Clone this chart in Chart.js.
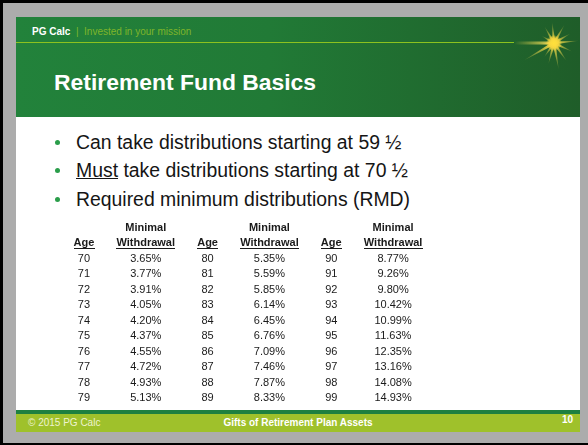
<!DOCTYPE html>
<html>
<head>
<meta charset="utf-8">
<script src="https://cdn.jsdelivr.net/npm/chart.js@4/dist/chart.umd.min.js"></script>
<style>
  body { margin: 0; width: 588px; height: 445px; background: #acacac; position: relative; overflow: hidden;
         font-family: "Liberation Sans", Arial, sans-serif; }
  .abs { position: absolute; white-space: nowrap; line-height: 1; }
  #slide { position: absolute; left: 16px; top: 17px; width: 564px; height: 415px; background: #fff; }
  #header { position: absolute; left: 16px; top: 17px; width: 564px; height: 100px;
            background: linear-gradient(to right, #22823b 0%, #217a36 45%, #1f5d29 100%); }
  #topline { position: absolute; left: 16px; top: 42px; width: 498px; height: 1px; background: #8cc21f; }
  #footline { position: absolute; left: 16px; top: 410px; width: 564px; height: 4px; background: #1e8040; }
  #footer { position: absolute; left: 16px; top: 414px; width: 564px; height: 18px; background: #9fc12b; }
  .dot { position: absolute; width: 5px; height: 5px; border-radius: 50%; background: #2a9d4a; }
  .bullet { font-size: 19.4px; color: #151515; }
  #rmdTable { position: absolute; left: 53px; top: 220px; }
</style>
</head>
<body>
<div class="abs" style="left:0;top:0;width:588px;height:3px;background:#000"></div>
<div class="abs" style="left:0;top:0;width:3px;height:445px;background:#000"></div>
<div class="abs" style="left:0;top:443px;width:588px;height:2px;background:#000"></div>

<div id="slide"></div>
<div id="header"></div>
<div id="topline"></div>
<canvas id="star" class="abs" width="80" height="60" style="left:504px;top:17px"></canvas>

<div class="abs" style="left:32px;top:27px;font-size:10px;color:#fff;font-weight:bold">PG Calc<span style="font-weight:normal;color:#7fb52a">&nbsp;&nbsp;|&nbsp;&nbsp;Invested in your mission</span></div>
<div class="abs" style="left:54px;top:71.3px;font-size:22.9px;color:#fff;font-weight:bold">Retirement Fund Basics</div>

<div class="dot" style="left:55px;top:140px"></div>
<div class="dot" style="left:55px;top:168px"></div>
<div class="dot" style="left:55px;top:197px"></div>
<div class="abs bullet" style="left:76px;top:132.5px">Can take distributions starting at 59 ½</div>
<div class="abs bullet" style="left:76px;top:160.5px"><u>Must</u> take distributions starting at 70 ½</div>
<div class="abs bullet" style="left:76px;top:189.5px">Required minimum distributions (RMD)</div>

<canvas id="rmdTable" width="371" height="186"></canvas>

<div id="footline"></div>
<div id="footer"></div>
<div class="abs" style="left:28px;top:418px;font-size:10px;color:#eef3cf">© 2015 PG Calc</div>
<div class="abs" style="left:198px;top:418px;width:200px;text-align:center;font-size:10px;color:#fff;font-weight:bold">Gifts of Retirement Plan Assets</div>
<div class="abs" style="left:562px;top:415px;font-size:10px;color:#fff;font-weight:bold">10</div>

<script>
// RMD table values
var ages = [70, 71, 72, 73, 74, 75, 76, 77, 78, 79,
            80, 81, 82, 83, 84, 85, 86, 87, 88, 89,
            90, 91, 92, 93, 94, 95, 96, 97, 98, 99];
var minWithdrawal = [3.65, 3.77, 3.91, 4.05, 4.20, 4.37, 4.55, 4.72, 4.93, 5.13,
                     5.35, 5.59, 5.85, 6.14, 6.45, 6.76, 7.09, 7.46, 7.87, 8.33,
                     8.77, 9.26, 9.80, 10.42, 10.99, 11.63, 12.35, 13.16, 14.08, 14.93];
var headerTop = ['', 'Minimal'];
var headerBottom = ['Age', 'Withdrawal'];
var rowsPerBlock = 10;

// star logo (decoration)
(function() {
    var c = document.getElementById('star').getContext('2d');
    var cx = 50, cy = 26;
    var glow = c.createLinearGradient(10, 0, cx, 0);
    glow.addColorStop(0, 'rgba(240,220,80,0)');
    glow.addColorStop(1, 'rgba(250,225,90,0.95)');
    c.fillStyle = glow;
    c.fillRect(10, cy - 1.5, cx - 10, 3);
    var rays = [[-95, 21], [-120, 19], [-60, 21], [-30, 19], [-5, 25], [25, 20], [55, 22], [80, 27],
                [105, 22], [150, 35], [125, 17], [-150, 14], [175, 14]];
    rays.forEach(function(r) {
        var a = r[0] * Math.PI / 180, len = r[1];
        var g = c.createLinearGradient(cx, cy, cx + Math.cos(a) * len, cy + Math.sin(a) * len);
        g.addColorStop(0, 'rgba(255,226,70,1)');
        g.addColorStop(1, 'rgba(230,210,80,0.1)');
        c.fillStyle = g;
        c.beginPath();
        c.moveTo(cx + Math.cos(a + Math.PI / 2) * 1.6, cy + Math.sin(a + Math.PI / 2) * 1.6);
        c.lineTo(cx + Math.cos(a) * len, cy + Math.sin(a) * len);
        c.lineTo(cx + Math.cos(a - Math.PI / 2) * 1.6, cy + Math.sin(a - Math.PI / 2) * 1.6);
        c.closePath();
        c.fill();
    });
    var rg = c.createRadialGradient(cx, cy, 0, cx, cy, 8);
    rg.addColorStop(0, 'rgba(255,225,60,1)');
    rg.addColorStop(0.6, 'rgba(250,215,60,0.8)');
    rg.addColorStop(1, 'rgba(250,215,60,0)');
    c.fillStyle = rg;
    c.beginPath(); c.arc(cx, cy, 8, 0, Math.PI * 2); c.fill();
})();

var agePoints = ages.map(function(a, i) {
    return { x: Math.floor(i / rowsPerBlock) * 2, y: i % rowsPerBlock };
});
var pctPoints = minWithdrawal.map(function(v, i) {
    return { x: Math.floor(i / rowsPerBlock) * 2 + 1, y: i % rowsPerBlock };
});

var tableText = {
    id: 'tableText',
    afterDatasetsDraw: function(chart) {
        var ctx = chart.ctx;
        var xs = chart.scales.x, ys = chart.scales.y;
        ctx.save();
        ctx.fillStyle = '#1a1a1a';
        ctx.textAlign = 'center';
        ctx.textBaseline = 'middle';
        ctx.font = '11px "Liberation Sans", Arial, sans-serif';
        chart.data.datasets.forEach(function(ds, d) {
            chart.getDatasetMeta(d).data.forEach(function(pt, i) {
                ctx.fillText(ds.labels[i], pt.x, pt.y);
            });
        });
        ctx.font = 'bold 11px "Liberation Sans", Arial, sans-serif';
        var nCols = Math.ceil(ages.length / rowsPerBlock) * 2;
        for (var c = 0; c < nCols; c++) {
            var x = xs.getPixelForValue(c);
            var k = c % 2;
            if (headerTop[k]) ctx.fillText(headerTop[k], x, ys.getPixelForValue(-2));
            var y = ys.getPixelForValue(-1);
            ctx.fillText(headerBottom[k], x, y);
            var w = ctx.measureText(headerBottom[k]).width;
            ctx.fillRect(Math.round(x - w / 2), Math.round(y + 5), Math.round(w), 1);
        }
        ctx.restore();
    }
};

var tableChart = new Chart(document.getElementById('rmdTable').getContext('2d'), {
    type: 'scatter',
    data: {
        datasets: [{
            label: 'Age',
            data: agePoints,
            labels: ages.map(function(a) { return String(a); }),
            pointRadius: 0
        }, {
            label: 'Minimal Withdrawal',
            data: pctPoints,
            labels: minWithdrawal.map(function(v) { return v.toFixed(2) + '%'; }),
            pointRadius: 0
        }]
    },
    options: {
        responsive: false,
        animation: false,
        events: [],
        layout: { padding: 0 },
        plugins: { legend: { display: false }, tooltip: { enabled: false } },
        scales: {
            x: { type: 'linear', min: -0.5, max: 5.5, display: false },
            y: { type: 'linear', min: -2.5, max: 9.5, reverse: true, display: false }
        }
    },
    plugins: [tableText]
});
</script>
</body>
</html>
